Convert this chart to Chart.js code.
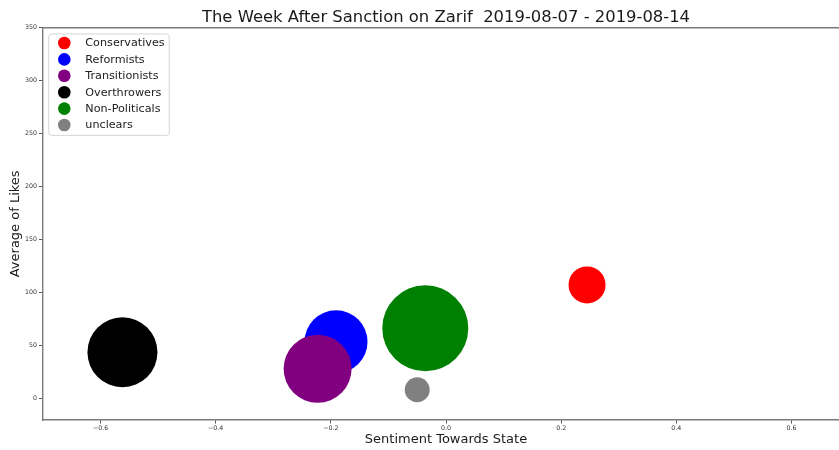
<!DOCTYPE html>
<html>
<head>
<meta charset="utf-8">
<script src="https://cdn.jsdelivr.net/npm/chart.js@4.4.1/dist/chart.umd.min.js"></script>
<style>
  html, body { margin: 0; padding: 0; overflow: hidden; background: #fff; }
  #wrap { width: 849px; height: 450px; }
</style>
</head>
<body>
<div id="wrap"><canvas id="chart" width="849" height="450"></canvas></div>
<script>
const groups = ["Conservatives", "Reformists", "Transitionists", "Overthrowers", "Non-Politicals", "unclears"];
const sentiment = [0.245, -0.191, -0.223, -0.562, -0.036, -0.050];
const avgLikes = [107, 53.3, 27.8, 43.4, 66, 8];
const bubbleSize = [18.5, 31.5, 34, 35, 43, 12.5];
const groupColors = ["#ff0000", "#0000ff", "#800080", "#000000", "#008000", "#808080"];
const xTicks = [-0.6, -0.4, -0.2, 0.0, 0.2, 0.4, 0.6];
const yTicks = [0, 50, 100, 150, 200, 250, 300, 350];

const font = "'DejaVu Sans', sans-serif";
const spineColor = "#7a7a7a";

function fmtTick(value) {
  return value.toFixed(1).replace("-", "\u2212");
}

// top spine and the boxed legend, drawn like matplotlib does
const framePlugin = {
  id: "frame",
  afterDraw(chart) {
    const ctx = chart.ctx;
    const area = chart.chartArea;

    ctx.save();
    ctx.strokeStyle = spineColor;
    ctx.lineWidth = 1.4;
    ctx.beginPath();
    ctx.moveTo(area.left, area.top);
    ctx.lineTo(area.right, area.top);
    ctx.stroke();

    const x0 = area.left + 5.7;
    const y0 = area.top + 6.3;
    ctx.beginPath();
    ctx.roundRect(x0, y0, 120.6, 101.4, 3);
    ctx.fillStyle = "rgba(255,255,255,0.8)";
    ctx.fill();
    ctx.strokeStyle = "#d6d6d6";
    ctx.lineWidth = 1;
    ctx.stroke();

    ctx.font = "11.2px " + font;
    ctx.textBaseline = "middle";
    ctx.textAlign = "left";
    chart.data.datasets.forEach((ds, i) => {
      const cy = y0 + 9 + i * 16.4;
      ctx.beginPath();
      ctx.arc(x0 + 15.6, cy, 6.3, 0, Math.PI * 2);
      ctx.fillStyle = ds.backgroundColor;
      ctx.fill();
      ctx.fillStyle = "#222";
      ctx.fillText(ds.label, x0 + 36.6, cy + 0.5);
    });
    ctx.restore();
  }
};

new Chart(document.getElementById("chart"), {
  type: "bubble",
  data: {
    datasets: groups.map((name, i) => ({
      label: name,
      data: [{ x: sentiment[i], y: avgLikes[i], r: bubbleSize[i] }],
      backgroundColor: groupColors[i],
      borderColor: groupColors[i],
      borderWidth: 0,
      order: groups.length - i
    }))
  },
  options: {
    responsive: false,
    animation: false,
    devicePixelRatio: 1,
    layout: { padding: 0, autoPadding: false },
    plugins: {
      legend: { display: false },
      tooltip: { enabled: false },
      title: {
        display: true,
        fullSize: false,
        text: "The Week After Sanction on Zarif  2019-08-07 - 2019-08-14",
        color: "#1a1a1a",
        font: { family: font, size: 16.4, weight: "normal" },
        padding: { top: 8, bottom: 0 }
      }
    },
    scales: {
      x: {
        type: "linear",
        min: -0.7,
        max: 0.7,
        afterBuildTicks: (scale) => { scale.ticks = xTicks.map((v) => ({ value: v })); },
        afterFit: (scale) => { scale.height = 30; },
        border: { color: spineColor, width: 1.4 },
        grid: { drawOnChartArea: false, tickLength: 3.5, color: "#555" },
        ticks: {
          color: "#333",
          padding: 1.5,
          maxRotation: 0,
          font: { family: font, size: 6.3 },
          callback: (value) => fmtTick(value)
        },
        title: {
          display: true,
          text: "Sentiment Towards State",
          color: "#1a1a1a",
          font: { family: font, size: 13 },
          padding: { top: 0, bottom: 2.7 }
        }
      },
      y: {
        type: "linear",
        min: -20.6,
        max: 350,
        afterBuildTicks: (scale) => { scale.ticks = yTicks.map((v) => ({ value: v })); },
        afterFit: (scale) => { scale.width = 43; },
        border: { color: spineColor, width: 1.4 },
        grid: { drawOnChartArea: false, tickLength: 4, color: "#555" },
        ticks: {
          color: "#333",
          padding: 2,
          font: { family: font, size: 6.3 },
          callback: (value) => String(value)
        },
        title: {
          display: true,
          text: "Average of Likes",
          color: "#1a1a1a",
          font: { family: font, size: 13 },
          padding: { top: 8.2, bottom: 0 }
        }
      }
    }
  },
  plugins: [framePlugin]
});
</script>
</body>
</html>
